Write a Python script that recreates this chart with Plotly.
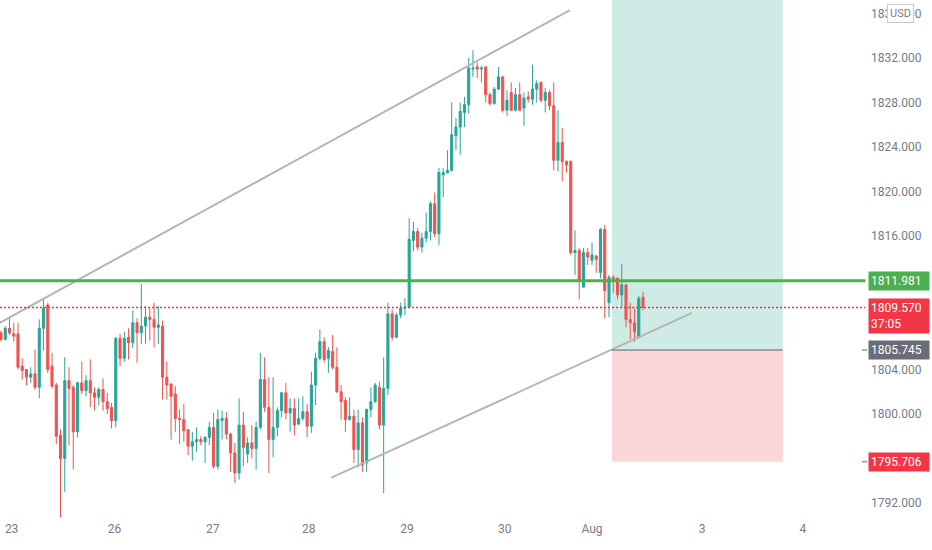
import plotly.graph_objects as go

# hourly candles (bar index 0 = first bar on screen)
opens = [
    1807.3, 1806.7, 1807.7, 1807.2, 1807.2, 1804.3, 1804.0, 1803.3, 1803.6, 1802.4,
    1807.7, 1809.8, 1804.3, 1802.6, 1798.1, 1796.0, 1803.0, 1802.4, 1798.4, 1802.8,
    1802.1, 1803.0, 1801.9, 1801.5, 1802.2, 1801.1, 1800.6, 1799.4, 1806.8, 1805.0,
    1806.9, 1806.4, 1808.2, 1807.3, 1807.9, 1808.7, 1808.5, 1807.8, 1807.9, 1803.3,
    1802.7, 1801.8, 1799.6, 1799.5, 1798.6, 1797.1, 1797.5, 1797.7, 1797.5, 1797.9,
    1798.8, 1795.3, 1799.4, 1799.6, 1798.2, 1796.5, 1794.7, 1799.0, 1796.4, 1797.4,
    1796.9, 1798.8, 1803.1, 1800.6, 1797.7, 1798.8, 1800.3, 1801.9, 1800.1, 1800.5,
    1799.1, 1799.6, 1800.2, 1798.9, 1802.6, 1805.0, 1806.5, 1805.0, 1805.6, 1804.2,
    1802.0, 1801.2, 1799.5, 1799.8, 1796.8, 1799.2, 1795.6, 1800.4, 1801.1, 1802.4,
    1799.0, 1802.3, 1809.0, 1806.9, 1808.9, 1809.5, 1809.6, 1815.6, 1816.4, 1815.0,
    1815.8, 1816.4, 1818.9, 1816.2, 1821.5, 1821.7, 1821.9, 1825.0, 1825.8, 1827.1,
    1827.8, 1831.0, 1831.2, 1831.0, 1831.2, 1828.7, 1827.9, 1829.2, 1830.3, 1827.3,
    1828.9, 1827.3, 1828.7, 1827.5, 1828.5, 1828.3, 1829.2, 1829.8, 1828.2, 1828.9,
    1827.7, 1822.8, 1824.4, 1822.7, 1822.7, 1814.5, 1814.7, 1811.4, 1814.5, 1813.8,
    1814.2, 1812.7, 1816.6, 1810.0, 1812.3, 1812.2, 1810.7, 1811.6, 1808.5, 1808.2,
    1806.9, 1810.5,
]
highs = [
    1807.5, 1807.9, 1808.6, 1808.2, 1808.2, 1805.0, 1804.0, 1804.2, 1805.8, 1808.5,
    1810.4, 1810.0, 1805.5, 1802.8, 1798.6, 1805.1, 1804.2, 1802.6, 1802.9, 1804.7,
    1803.5, 1804.9, 1802.4, 1802.4, 1803.2, 1801.9, 1801.0, 1806.9, 1807.2, 1807.4,
    1807.7, 1809.3, 1808.6, 1811.7, 1809.7, 1809.5, 1810.0, 1809.7, 1808.4, 1804.7,
    1802.7, 1802.5, 1800.4, 1800.9, 1798.6, 1798.4, 1798.8, 1798.0, 1798.0, 1799.3,
    1800.1, 1800.4, 1800.3, 1800.2, 1798.3, 1797.4, 1801.4, 1800.2, 1797.9, 1799.0,
    1799.3, 1805.5, 1805.1, 1803.3, 1803.3, 1800.6, 1802.0, 1802.8, 1801.4, 1801.4,
    1801.4, 1801.6, 1800.9, 1803.8, 1805.5, 1807.6, 1806.9, 1806.0, 1807.1, 1806.0,
    1802.6, 1801.5, 1801.5, 1800.4, 1800.4, 1799.7, 1800.5, 1802.4, 1802.8, 1802.9,
    1805.1, 1810.0, 1809.4, 1809.1, 1810.0, 1810.4, 1817.6, 1817.3, 1816.7, 1816.3,
    1818.1, 1819.1, 1819.9, 1822.1, 1822.1, 1823.7, 1828.0, 1826.6, 1828.0, 1828.5,
    1832.0, 1832.7, 1831.6, 1831.3, 1831.2, 1828.9, 1829.4, 1831.2, 1830.4, 1829.1,
    1829.8, 1829.3, 1829.8, 1828.9, 1829.0, 1831.4, 1830.0, 1829.9, 1829.3, 1829.1,
    1829.8, 1827.3, 1825.7, 1822.8, 1822.8, 1816.5, 1814.9, 1814.9, 1814.9, 1815.4,
    1814.3, 1816.7, 1817.0, 1812.5, 1812.5, 1812.3, 1813.5, 1811.7, 1810.0, 1809.5,
    1810.6, 1811.0,
]
lows = [
    1806.5, 1806.6, 1807.1, 1806.5, 1804.0, 1803.1, 1802.6, 1802.8, 1802.2, 1801.4,
    1805.7, 1803.7, 1802.3, 1797.3, 1790.7, 1793.0, 1797.2, 1795.0, 1797.9, 1801.8,
    1801.6, 1800.6, 1800.3, 1800.8, 1800.3, 1800.0, 1798.7, 1798.8, 1804.3, 1804.7,
    1804.9, 1805.9, 1804.6, 1806.3, 1806.3, 1806.6, 1806.0, 1806.3, 1801.3, 1801.3,
    1797.7, 1798.4, 1797.3, 1797.5, 1796.3, 1795.8, 1796.6, 1797.2, 1795.6, 1797.2,
    1795.1, 1795.0, 1797.7, 1797.7, 1794.8, 1793.8, 1794.1, 1795.3, 1795.6, 1796.0,
    1795.0, 1798.6, 1800.2, 1794.7, 1796.1, 1798.0, 1799.7, 1799.5, 1798.4, 1798.1,
    1799.0, 1799.4, 1797.9, 1798.3, 1800.8, 1804.8, 1804.6, 1803.7, 1804.0, 1801.9,
    1799.5, 1798.4, 1799.4, 1795.6, 1795.2, 1794.8, 1794.8, 1799.7, 1801.0, 1798.6,
    1792.9, 1801.7, 1806.6, 1806.8, 1808.6, 1808.9, 1809.5, 1814.6, 1814.7, 1814.5,
    1815.4, 1815.6, 1815.9, 1815.2, 1819.5, 1821.6, 1821.8, 1823.7, 1823.3, 1825.8,
    1827.0, 1830.3, 1830.2, 1829.8, 1828.0, 1827.7, 1827.8, 1829.1, 1827.1, 1826.8,
    1827.2, 1827.2, 1827.2, 1825.9, 1828.0, 1827.8, 1828.0, 1828.0, 1827.1, 1827.3,
    1821.9, 1821.8, 1820.9, 1821.7, 1814.3, 1812.5, 1810.3, 1811.4, 1813.4, 1813.4,
    1812.7, 1812.2, 1808.6, 1808.7, 1810.9, 1810.3, 1809.5, 1807.8, 1806.7, 1806.5,
    1806.8, 1809.3,
]
closes = [
    1806.7, 1807.7, 1807.3, 1807.0, 1804.2, 1803.9, 1803.3, 1803.6, 1802.4, 1807.7,
    1809.5, 1804.0, 1802.5, 1798.0, 1796.0, 1803.0, 1802.3, 1798.4, 1802.8, 1802.1,
    1803.0, 1801.9, 1801.5, 1802.2, 1801.1, 1800.5, 1799.4, 1806.8, 1805.0, 1806.8,
    1806.4, 1808.2, 1807.3, 1807.9, 1808.7, 1808.5, 1807.8, 1808.0, 1803.3, 1802.6,
    1801.6, 1799.6, 1799.5, 1798.5, 1797.1, 1797.5, 1797.7, 1797.5, 1797.9, 1798.8,
    1795.3, 1799.5, 1799.6, 1798.2, 1796.5, 1794.7, 1799.0, 1797.0, 1797.4, 1796.9,
    1798.8, 1803.1, 1800.6, 1797.7, 1798.8, 1800.3, 1801.9, 1800.1, 1800.5, 1799.0,
    1799.6, 1800.2, 1798.9, 1802.6, 1805.0, 1806.5, 1804.9, 1805.7, 1804.2, 1802.0,
    1801.1, 1799.5, 1799.8, 1796.8, 1799.2, 1795.4, 1800.4, 1801.1, 1802.6, 1799.0,
    1802.3, 1809.0, 1806.9, 1808.9, 1809.5, 1809.6, 1815.7, 1816.4, 1815.0, 1815.8,
    1816.4, 1818.9, 1816.2, 1821.7, 1821.7, 1821.9, 1825.1, 1825.8, 1827.2, 1827.8,
    1831.1, 1831.1, 1831.0, 1831.1, 1828.7, 1827.9, 1829.2, 1830.3, 1827.3, 1828.2,
    1827.3, 1828.7, 1827.3, 1828.4, 1828.3, 1829.2, 1829.7, 1828.2, 1828.9, 1827.7,
    1822.8, 1824.4, 1822.7, 1822.4, 1814.5, 1814.7, 1811.9, 1814.5, 1814.1, 1814.3,
    1813.9, 1816.6, 1811.1, 1812.3, 1811.9, 1810.7, 1811.6, 1808.5, 1808.2, 1807.4,
    1810.4, 1809.6,
]
bars = list(range(len(opens)))

# day labels on the time axis (bar position of the first bar of each day)
day_labels = ["23", "26", "27", "28", "29", "30", "Aug", "3", "4"]
day_pos = [2.5, 26.7, 49.8, 72.4, 95.5, 118.5, 139, 164.9, 188.6]

price_ticks = [1792, 1800, 1804, 1816, 1820, 1824, 1828, 1832, 1836]

# drawings
resistance = 1811.981
last_price = 1809.570
countdown = "37:05"
entry = 1805.745
stop = 1795.706
target = 1845.0
position_bars = [143.7, 183.9]
upper_line_x = [-0.3, 133.8]
upper_line_y = [1808.2, 1836.3]
lower_line_x = [77.6, 162.5]
lower_line_y = [1794.25, 1809.08]

UP = "#26a69a"
DOWN = "#ef5350"
GREEN = "#4caf50"
RED = "#f23645"
AXIS_TXT = "#787b86"

fig = go.Figure()

# long position tool
fig.add_shape(type="rect", x0=position_bars[0], x1=position_bars[1], y0=entry, y1=target,
              fillcolor="rgba(8,153,129,0.2)", line_width=0, layer="below")
fig.add_shape(type="rect", x0=position_bars[0], x1=position_bars[1], y0=stop, y1=entry,
              fillcolor="rgba(242,54,69,0.2)", line_width=0, layer="below")
fig.add_shape(type="line", x0=position_bars[0], x1=position_bars[1], y0=entry, y1=entry,
              line=dict(color="#5d606b", width=1))

fig.add_trace(go.Candlestick(
    x=bars, open=opens, high=highs, low=lows, close=closes,
    increasing=dict(line=dict(color=UP, width=1), fillcolor=UP),
    decreasing=dict(line=dict(color=DOWN, width=1), fillcolor=DOWN),
    whiskerwidth=0, showlegend=False, hoverinfo="skip",
))

# trend lines
for lx, ly in [(upper_line_x, upper_line_y), (lower_line_x, lower_line_y)]:
    fig.add_trace(go.Scatter(x=lx, y=ly, mode="lines", line=dict(color="#b5b5b5", width=2),
                             showlegend=False, hoverinfo="skip"))

# horizontal line + last price line
fig.add_shape(type="line", xref="paper", x0=0, x1=1.004, y0=resistance, y1=resistance,
              line=dict(color=GREEN, width=3))
fig.add_shape(type="line", xref="paper", x0=0, x1=1.004, y0=last_price, y1=last_price,
              line=dict(color=RED, width=1.5, dash="2px,2px"))
fig.add_shape(type="line", xref="paper", x0=1, x1=1.006, y0=entry, y1=entry,
              line=dict(color="#5d606b", width=1))
fig.add_shape(type="line", xref="paper", x0=1, x1=1.006, y0=stop, y1=stop,
              line=dict(color=RED, width=1))


def price_label(y, text, color):
    fig.add_annotation(x=1, xref="paper", y=y, yref="y", xanchor="left", xshift=6,
                       text=text, showarrow=False, align="left", bgcolor=color,
                       width=56, borderpad=2, font=dict(color="white", size=12, family="Roboto"))


price_label(resistance, "%.3f" % resistance, GREEN)
price_label(last_price - 0.72, "%.3f<br>%s" % (last_price, countdown), RED)
price_label(entry, "%.3f" % entry, "#6a6d78")
price_label(stop, "%.3f" % stop, RED)

fig.add_annotation(x=1, xref="paper", y=1836, yref="y", xanchor="left", xshift=25,
                   text="USD", showarrow=False, bgcolor="white", bordercolor="#c9cbd1",
                   borderwidth=1, borderpad=2, font=dict(color=AXIS_TXT, size=11, family="Roboto"))

fig.update_layout(
    width=932, height=550,
    margin=dict(l=0, r=70, t=0, b=30),
    paper_bgcolor="white", plot_bgcolor="white",
    font=dict(family="Roboto", color=AXIS_TXT, size=12),
    xaxis=dict(range=[-0.235, 202.5], tickvals=day_pos, ticktext=day_labels,
               showgrid=False, zeroline=False, showline=False, ticks="",
               rangeslider=dict(visible=False), fixedrange=True),
    yaxis=dict(range=[1790.47, 1837.21], side="right", tickvals=price_ticks,
               tickformat=".3f", showgrid=False, zeroline=False, showline=False,
               ticks="", ticklabelstandoff=8),
)

# the page body has a default 8px margin; drop it so the chart sits at the corner
fig.write_html("out.html", config={"displayModeBar": False},
               post_script="document.body.style.margin='0';")
